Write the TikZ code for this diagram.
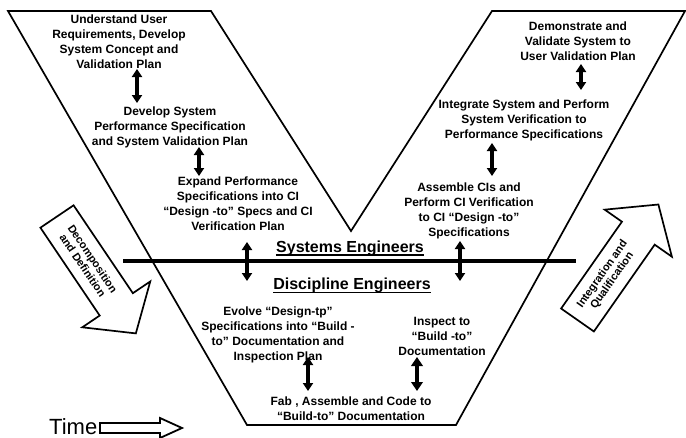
\documentclass[tikz,border=0pt]{standalone}
\usepackage{fontspec}
\setmainfont{Liberation Sans}
\usetikzlibrary{arrows.meta}
\begin{document}
\begin{tikzpicture}[x=1pt,y=-1pt,
  vline/.style={line width=1.7pt, line join=miter},
  lbl/.style={font=\fontsize{12}{15}\selectfont\bfseries, align=center, inner sep=0pt, anchor=north},
  eng/.style={font=\fontsize{16}{18}\selectfont\bfseries, inner sep=0pt, anchor=base},
  uline/.style={line width=1.5pt},
  dbl/.style={line width=3.2pt, {Triangle[length=8pt,width=10pt]}-{Triangle[length=8pt,width=10pt]}},
  dblthick/.style={line width=4.2pt, {Triangle[length=9pt,width=11.5pt]}-{Triangle[length=9pt,width=11.5pt]}},
  bigarrow/.style={line width=1.7pt, line join=miter, fill=white},
  arrlbl/.style={font=\fontsize{11}{12}\selectfont\bfseries, align=center, inner sep=0pt}
]
\useasboundingbox (0,0) rectangle (686,437);
% V outline
\draw[vline] (8,11) -- (211,11) -- (351,231) -- (492,11) -- (685,11) -- (456,425) -- (247,425) -- cycle;
% divider
\coordinate (divL) at (123,261);
\coordinate (divR) at (576,261);
\draw[line width=4pt] (divL) -- (divR);

% text blocks
\node[lbl] (b1) at (119,15) {Understand User\\Requirements, Develop\\System Concept and\\Validation Plan};
\node[lbl] (b2) at (170,107) {Develop System\\Performance Specification\\and System Validation Plan};
\node[lbl] (b3) at (238,177) {Expand Performance\\Specifications into CI\\“Design -to” Specs and CI\\Verification Plan};
\node[lbl] (b4) at (578,22) {Demonstrate and\\Validate System to\\User Validation Plan};
\node[lbl] (b5) at (524,100) {Integrate System and Perform\\System Verification to\\Performance Specifications};
\node[lbl] (b6) at (469,183) {Assemble CIs and\\Perform CI Verification\\to CI “Design -to”\\Specifications};
\node[lbl] (b7) at (278,307) {Evolve “Design-tp”\\Specifications into “Build -\\to” Documentation and\\Inspection Plan};
\node[lbl] (b8) at (442,317) {Inspect to\\“Build -to”\\Documentation};
\node[lbl] (b9) at (351,397) {Fab , Assemble and Code to\\“Build-to” Documentation};

% engineer labels
\node[eng] (se) at (350,252) {Systems Engineers};
\draw[uline] ([yshift=-2.8pt]se.base west) -- ([yshift=-2.8pt]se.base east);
\node[eng] (de) at (352,289.5) {Discipline Engineers};
\draw[uline] ([yshift=-2.8pt]de.base west) -- ([yshift=-2.8pt]de.base east);

% double arrows
\coordinate (a1) at (137,69);  \coordinate (a2) at (137,103);
\coordinate (b1e) at (199,147); \coordinate (b2e) at (199,176);
\coordinate (c1) at (581,64);  \coordinate (c2) at (581,90);
\coordinate (d1) at (492,143); \coordinate (d2) at (492,176);
\coordinate (e1) at (247,242); \coordinate (e2) at (247,281);
\coordinate (f1) at (460,241); \coordinate (f2) at (460,281);
\coordinate (g1) at (308,357); \coordinate (g2) at (308,391);
\coordinate (h1) at (417,357); \coordinate (h2) at (417,391);
\draw[dbl] (a1) -- (a2);
\draw[dbl] (b1e) -- (b2e);
\draw[dbl] (c1) -- (c2);
\draw[dbl] (d1) -- (d2);
\draw[dbl] (e1) -- (e2);
\draw[dbl] (f1) -- (f2);
\draw[dbl] (g1) -- (g2);
\draw[dblthick] (h1) -- (h2);

% left big arrow
\begin{scope}[shift={(57,216.5)}, rotate=-56, transform shape]
  \draw[bigarrow] (0,-20) -- (106,-20) -- (106,-41) -- (141,0) -- (106,41) -- (106,20) -- (0,20) -- cycle;
  \node[arrlbl] (dd) at (55,0) {Decomposition\\and Definition};
\end{scope}
% right big arrow
\begin{scope}[shift={(577.5,320)}, rotate=55, transform shape]
  \draw[bigarrow] (0,-20) -- (106,-20) -- (106,-41) -- (141,0) -- (106,41) -- (106,20) -- (0,20) -- cycle;
  \node[arrlbl] (iq) at (52,0) {Integration and\\Qualification};
\end{scope}

% time arrow
\draw[line width=1.8pt, line join=miter, fill=white] (100,423) -- (160,423) -- (160,418) -- (182,428) -- (160,438) -- (160,433) -- (100,433) -- cycle;
\node[font=\fontsize{22}{24}\selectfont, inner sep=0pt, anchor=base west] (time) at (49,434.5) {Time};
\end{tikzpicture}
\end{document}
